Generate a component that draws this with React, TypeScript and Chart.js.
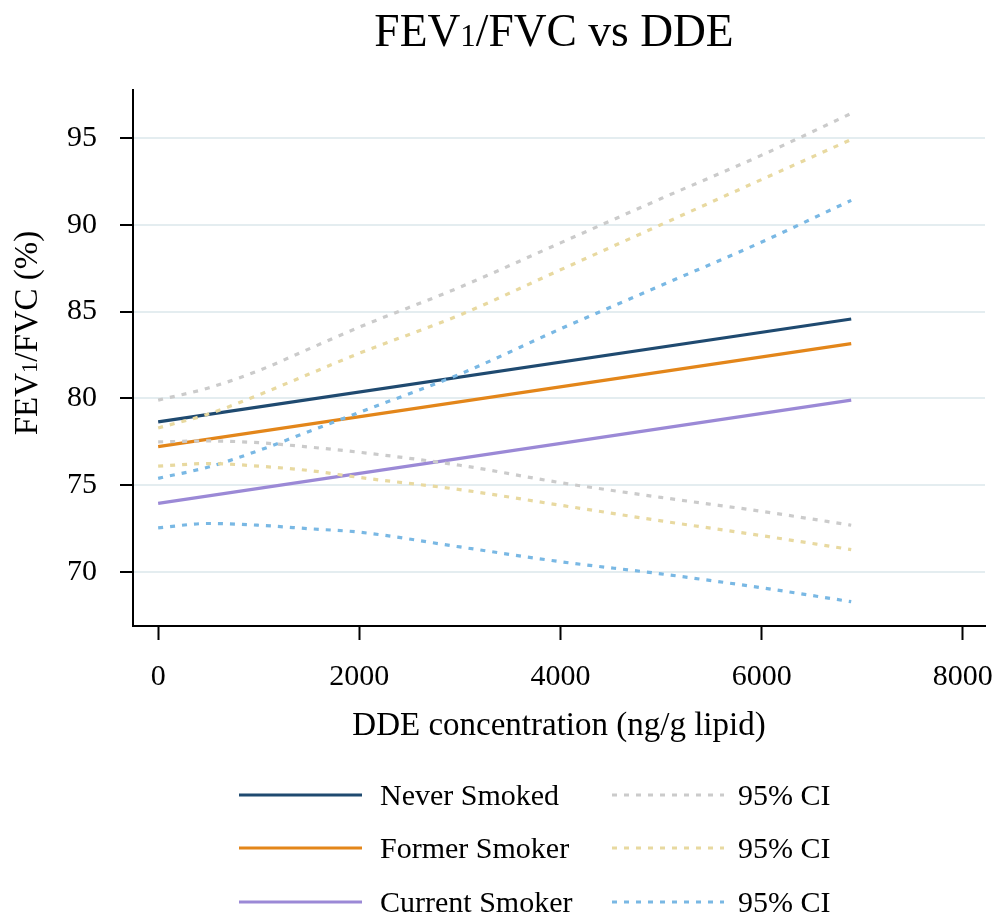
import { useEffect, useRef } from "react";
import { Chart, registerables } from "chart.js";

Chart.register(...registerables);

const FONT = '"Liberation Serif", "Times New Roman", Times, serif';

const titleParts = ["FEV", "1", "/FVC vs DDE"];
const yTitleParts = ["FEV", "1", "/FVC (%)"];
const xTitle = "DDE concentration (ng/g lipid)";
const groupLabels = ["Never Smoked", "Former Smoker", "Current Smoker"];
const ciLabel = "95% CI";
const xTicks = [0, 2000, 4000, 6000, 8000];
const yTicks = [70, 75, 80, 85, 90, 95];

// fitted lines
const fitX = [0, 6890];
const neverFit = [78.65, 84.57];
const formerFit = [77.22, 83.15];
const currentFit = [73.96, 79.9];

// confidence bands
const ciX = [0, 500, 1000, 1500, 2000, 3000, 4000, 5000, 6000, 6890];
const neverUpper = [79.9, 80.6, 81.6, 82.85, 84.1, 86.4, 88.95, 91.5, 94.0, 96.4];
const neverLower = [77.5, 77.55, 77.45, 77.2, 76.9, 76.15, 75.15, 74.3, 73.5, 72.7];
const formerUpper = [78.3, 79.1, 80.2, 81.4, 82.6, 84.8, 87.4, 90.0, 92.6, 94.9];
const formerLower = [76.1, 76.25, 76.1, 75.85, 75.45, 74.75, 73.85, 72.95, 72.1, 71.3];
const currentUpper = [75.4, 76.05, 77.0, 78.1, 79.2, 81.4, 84.0, 86.5, 89.0, 91.4];
const currentLower = [72.55, 72.8, 72.7, 72.5, 72.3, 71.45, 70.6, 69.9, 69.1, 68.3];

const lineColors = ["#1f4a70", "#e3861a", "#9b89d6"];
const ciColors = ["#cbcbcb", "#e8d9a0", "#79b8e4"];

const DASH = [5, 7];

function toPts(xs: number[], ys: number[]) {
  return xs.map((x, i) => ({ x, y: ys[i] }));
}

function drawParts(ctx: CanvasRenderingContext2D, parts: string[], size: number, cx: number, baseline: number) {
  const sizes = parts.map((_, i) => (i === 1 ? size * 0.68 : size));
  const widths: number[] = [];
  let total = 0;
  parts.forEach((p, i) => {
    ctx.font = `${sizes[i]}px ${FONT}`;
    const w = ctx.measureText(p).width;
    widths.push(w);
    total += w;
  });
  let x = cx - total / 2;
  ctx.textAlign = "left";
  ctx.textBaseline = "alphabetic";
  parts.forEach((p, i) => {
    ctx.font = `${sizes[i]}px ${FONT}`;
    ctx.fillText(p, x, baseline);
    x += widths[i];
  });
}

const decorPlugin = {
  id: "decor",
  afterDraw(chart: any) {
    const ctx: CanvasRenderingContext2D = chart.ctx;
    const { left, right, top, bottom } = chart.chartArea;
    ctx.save();
    ctx.fillStyle = "#000";
    // main title
    drawParts(ctx, titleParts, 45.5, (left + right) / 2 - 5, 46);
    // y-axis title
    ctx.save();
    ctx.translate(37, (top + bottom) / 2 - 25);
    ctx.rotate(-Math.PI / 2);
    drawParts(ctx, yTitleParts, 33, 0, 0);
    ctx.restore();

    // legend (2 columns x 3 rows)
    const ds = chart.data.datasets;
    const rowY = [795, 848, 902];
    for (let i = 0; i < 3; i++) {
      const fit = ds[6 + i];
      const ci = ds[i * 2];
      const y = rowY[i];
      ctx.setLineDash([]);
      ctx.lineWidth = 3.2;
      ctx.strokeStyle = fit.borderColor;
      ctx.beginPath();
      ctx.moveTo(239, y);
      ctx.lineTo(362, y);
      ctx.stroke();
      ctx.setLineDash(DASH);
      ctx.strokeStyle = ci.borderColor;
      ctx.beginPath();
      ctx.moveTo(612, y);
      ctx.lineTo(724, y);
      ctx.stroke();
      ctx.setLineDash([]);
      ctx.font = `30px ${FONT}`;
      ctx.textAlign = "left";
      ctx.textBaseline = "alphabetic";
      ctx.fillText(fit.label, 380, y + 10);
      ctx.fillText(ci.label, 738, y + 10);
    }
    ctx.restore();
  },
};

export default function App() {
  const ref = useRef<HTMLCanvasElement | null>(null);
  useEffect(() => {
    if (!ref.current) return;
    const ciSets = [
      [neverUpper, neverLower],
      [formerUpper, formerLower],
      [currentUpper, currentLower],
    ];
    const datasets: any[] = [];
    ciSets.forEach((pair, g) => {
      pair.forEach((vals) => {
        datasets.push({
          label: ciLabel,
          data: toPts(ciX, vals),
          borderColor: ciColors[g],
          borderWidth: 3.2,
          borderDash: DASH,
          pointRadius: 0,
          fill: false,
          cubicInterpolationMode: "monotone",
          order: 0,
        });
      });
    });
    [neverFit, formerFit, currentFit].forEach((vals, g) => {
      datasets.push({
        label: groupLabels[g],
        data: toPts(fitX, vals),
        borderColor: lineColors[g],
        borderWidth: 3.2,
        pointRadius: 0,
        fill: false,
        order: 1,
      });
    });

    const chart = new Chart(ref.current, {
      type: "line",
      data: { datasets },
      plugins: [decorPlugin],
      options: {
        responsive: false,
        animation: false,
        layout: { padding: { top: 90, left: 0, right: 18, bottom: 162 } },
        plugins: { legend: { display: false }, title: { display: false }, tooltip: { enabled: false } },
        scales: {
          x: {
            type: "linear",
            min: -250,
            max: 8220,
            afterBuildTicks: (s: any) => {
              s.ticks = xTicks.map((value) => ({ value }));
            },
            afterFit: (s: any) => {
              s.height = 130;
              s.paddingLeft = 0;
              s.paddingRight = 0;
            },
            grid: {
              display: true,
              drawOnChartArea: false,
              drawTicks: true,
              tickLength: 14,
              tickWidth: 2,
              tickColor: "#000",
            },
            border: { display: true, color: "#000", width: 2 },
            ticks: {
              font: { family: FONT, size: 30 },
              color: "#000",
              padding: 19,
              maxRotation: 0,
              autoSkip: false,
              callback: (v: any) => String(v),
            },
            title: {
              display: true,
              text: xTitle,
              font: { family: FONT, size: 33 },
              color: "#000",
              padding: { top: 0, bottom: 10 },
            },
          },
          y: {
            type: "linear",
            min: 66.9,
            max: 97.75,
            afterBuildTicks: (s: any) => {
              s.ticks = yTicks.map((value) => ({ value }));
            },
            afterFit: (s: any) => {
              s.width = 133;
              s.paddingTop = 0;
              s.paddingBottom = 0;
            },
            grid: {
              color: "#e4edf0",
              lineWidth: 2,
              drawTicks: true,
              tickLength: 13,
              tickWidth: 2,
              tickColor: "#000",
            },
            border: { display: true, color: "#000", width: 2 },
            ticks: {
              font: { family: FONT, size: 30 },
              color: "#000",
              padding: 23,
              callback: (v: any) => String(v),
            },
          },
        },
      },
    } as any);
    return () => chart.destroy();
  }, []);
  return (
    <div style={{ position: "absolute", left: 0, top: 0, width: 1003, height: 918, background: "#fff" }}>
      <canvas ref={ref} width={1003} height={918} style={{ width: 1003, height: 918 }} />
    </div>
  );
}
